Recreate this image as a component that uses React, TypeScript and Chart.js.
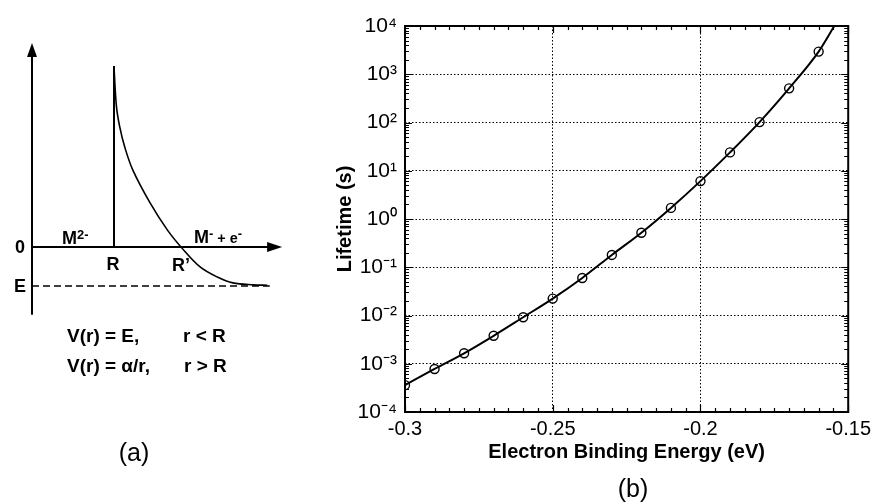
import React, { useEffect, useRef } from "react";
import { Chart, registerables } from "chart.js";

Chart.register(...registerables);

// ---------- Panel (b) data ----------
const energies = [-0.3, -0.29, -0.28, -0.27, -0.26, -0.25, -0.24, -0.23, -0.22, -0.21, -0.2, -0.19, -0.18, -0.17, -0.16];
const lifetimes = [3.6e-4, 7.8e-4, 1.65e-3, 3.8e-3, 9.2e-3, 0.0224, 0.06, 0.18, 0.52, 1.7, 6.1, 24, 102, 510, 2950];
const curveEndEnergy = -0.1547;
const curveEndLifetime = 1e4;
const xTickValues = [-0.3, -0.25, -0.2, -0.15];
const xTickLabels = ["-0.3", "-0.25", "-0.2", "-0.15"];
const yTickExponents = [-4, -3, -2, -1, 0, 1, 2, 3, 4];
const xTitle = "Electron Binding Energy (eV)";
const yTitle = "Lifetime (s)";

// ---------- Panel (a) schematic data (abstract units) ----------
const wallR = 1.0;
const wallTop = 4.64;
const levelE = -1.0;
const levelEnd = 2.9;
const curveR = [1.0, 1.03, 1.07, 1.13, 1.23, 1.44, 1.65, 1.83, 2.05, 2.26, 2.45, 2.7, 2.87];
const curveV = [4.6, 3.6, 3.08, 2.57, 1.97, 1.13, 0.44, -0.03, -0.51, -0.77, -0.92, -0.97, -0.98];
const axisYBottom = -1.74;
const axisYTop = 5.23;
const axisXRight = 3.05;

const FONT = '"Liberation Sans", Arial, Helvetica, sans-serif';

const supMap: Record<string, string> = {
  "-": "\u207B", "0": "\u2070", "1": "\u00B9", "2": "\u00B2", "3": "\u00B3",
  "4": "\u2074", "5": "\u2075", "6": "\u2076", "7": "\u2077", "8": "\u2078", "9": "\u2079",
};
const toSup = (s: string) => s.split("").map((c) => supMap[c] || c).join("");

const framePlugin = {
  id: "frameTicks",
  afterDatasetsDraw(chart: any) {
    const { ctx, chartArea: a, scales } = chart;
    const xs = scales.x;
    const ys = scales.y;
    ctx.save();
    ctx.strokeStyle = "#000";
    ctx.lineWidth = 1.2;
    ctx.beginPath();
    for (let i = 0; i <= 30; i++) {
      const v = -0.3 + i * 0.005;
      const px = Math.round(xs.getPixelForValue(v)) + 0.5;
      const len = i % 10 === 0 ? 7 : 4;
      ctx.moveTo(px, a.bottom);
      ctx.lineTo(px, a.bottom - len);
      ctx.moveTo(px, a.top);
      ctx.lineTo(px, a.top + len);
    }
    for (let d = -4; d <= 3; d++) {
      for (let m = 1; m <= 9; m++) {
        const v = m * Math.pow(10, d);
        const py = Math.round(ys.getPixelForValue(v)) + 0.5;
        const len = m === 1 ? 7 : 4;
        ctx.moveTo(a.left, py);
        ctx.lineTo(a.left + len, py);
        ctx.moveTo(a.right, py);
        ctx.lineTo(a.right - len, py);
      }
    }
    ctx.stroke();
    ctx.lineWidth = 2;
    ctx.strokeRect(a.left, a.top, a.right - a.left, a.bottom - a.top);
    ctx.restore();
  },
};

const arrowPlugin = {
  id: "arrows",
  afterDatasetsDraw(chart: any) {
    const { ctx, scales } = chart;
    const xs = scales.x;
    const ys = scales.y;
    ctx.save();
    ctx.fillStyle = "#000";
    const yx = xs.getPixelForValue(0);
    const yy = ys.getPixelForValue(axisYTop);
    ctx.beginPath();
    ctx.moveTo(yx, yy);
    ctx.lineTo(yx - 5, yy + 14);
    ctx.lineTo(yx + 5, yy + 14);
    ctx.closePath();
    ctx.fill();
    const xx = xs.getPixelForValue(axisXRight);
    const xy = ys.getPixelForValue(0);
    ctx.beginPath();
    ctx.moveTo(xx, xy);
    ctx.lineTo(xx - 15, xy - 5);
    ctx.lineTo(xx - 15, xy + 5);
    ctx.closePath();
    ctx.fill();
    ctx.restore();
  },
};

function LifetimeChart() {
  const ref = useRef<HTMLCanvasElement | null>(null);
  useEffect(() => {
    if (!ref.current) return;
    const curveData = energies.map((x, i) => ({ x, y: lifetimes[i] }));
    curveData.push({ x: curveEndEnergy, y: curveEndLifetime });
    const chart = new Chart(ref.current, {
      type: "scatter",
      data: {
        datasets: [
          {
            label: "fit",
            data: curveData,
            showLine: true,
            borderColor: "#000",
            borderWidth: 2,
            pointRadius: 0,
            cubicInterpolationMode: "monotone",
          } as any,
          {
            label: "computed",
            data: energies.map((x, i) => ({ x, y: lifetimes[i] })),
            showLine: false,
            borderColor: "#000",
            backgroundColor: "rgba(0,0,0,0)",
            borderWidth: 1.4,
            pointRadius: 4.5,
          },
        ],
      },
      options: {
        animation: false,
        responsive: false,
        events: [],
        layout: { padding: { left: 0, top: 26, right: 24, bottom: 0 } },
        plugins: { legend: { display: false }, tooltip: { enabled: false } },
        scales: {
          x: {
            type: "linear",
            min: -0.3,
            max: -0.15,
            afterBuildTicks: (s: any) => {
              s.ticks = xTickValues.map((v) => ({ value: v }));
            },
            afterFit: (s: any) => {
              s.height = 90;
            },
            ticks: {
              color: "#000",
              font: { family: FONT, size: 20 },
              padding: 5,
              maxRotation: 0,
              callback: (v: any) => {
                const i = xTickValues.findIndex((t) => Math.abs(t - v) < 1e-9);
                return i >= 0 ? xTickLabels[i] : "";
              },
            },
            grid: { color: "#000", lineWidth: 1, drawTicks: false },
            border: { display: false, dash: [1.5, 2] },
            title: {
              display: true,
              text: xTitle,
              color: "#000",
              font: { family: FONT, size: 20, weight: "bold" },
              padding: { top: 0, bottom: 38 },
            },
          },
          y: {
            type: "logarithmic",
            min: 1e-4,
            max: 1e4,
            afterBuildTicks: (s: any) => {
              s.ticks = yTickExponents.map((e) => ({ value: Math.pow(10, e) }));
            },
            afterFit: (s: any) => {
              s.width = 105;
            },
            ticks: {
              color: "#000",
              font: { family: FONT, size: 21 },
              padding: 8,
              callback: (v: any) => "10" + toSup(String(Math.round(Math.log10(v)))),
            },
            grid: { color: "#000", lineWidth: 1, drawTicks: false },
            border: { display: false, dash: [1.5, 2] },
            title: {
              display: true,
              text: yTitle,
              color: "#000",
              font: { family: FONT, size: 20, weight: "bold" },
              padding: { top: 33, bottom: 0 },
            },
          },
        },
      } as any,
      plugins: [framePlugin],
    });
    return () => chart.destroy();
  }, []);
  return (
    <canvas
      ref={ref}
      width={576}
      height={502}
      style={{ position: "absolute", left: 300, top: 0, width: 576, height: 502 }}
    />
  );
}

function SchematicChart() {
  const ref = useRef<HTMLCanvasElement | null>(null);
  useEffect(() => {
    if (!ref.current) return;
    const line = (data: { x: number; y: number }[], extra: any = {}) => ({
      data,
      showLine: true,
      borderColor: "#000",
      borderWidth: 2,
      pointRadius: 0,
      ...extra,
    });
    const chart = new Chart(ref.current, {
      type: "scatter",
      data: {
        datasets: [
          line([{ x: 0, y: axisYBottom }, { x: 0, y: axisYTop - 0.2 }], { label: "V axis" }),
          line([{ x: 0, y: 0 }, { x: axisXRight - 0.1, y: 0 }], { label: "r axis" }),
          line([{ x: wallR, y: 0 }, { x: wallR, y: wallTop }], { label: "wall" }),
          line(curveR.map((x, i) => ({ x, y: curveV[i] })), {
            label: "Coulomb barrier",
            tension: 0.35,
            borderWidth: 1.6,
          }),
          line([{ x: 0, y: levelE }, { x: levelEnd, y: levelE }], {
            label: "E level",
            borderWidth: 1.3,
            borderDash: [7, 4],
          }),
        ] as any,
      },
      options: {
        animation: false,
        responsive: false,
        events: [],
        layout: { padding: 0 },
        plugins: { legend: { display: false }, tooltip: { enabled: false } },
        scales: {
          x: { type: "linear", display: false, min: -32 / 82, max: (300 - 32) / 82 },
          y: { type: "linear", display: false, min: -(502 - 247) / 39, max: 247 / 39 },
        },
      } as any,
      plugins: [arrowPlugin],
    });
    return () => chart.destroy();
  }, []);
  return (
    <canvas
      ref={ref}
      width={300}
      height={502}
      style={{ position: "absolute", left: 0, top: 0, width: 300, height: 502 }}
    />
  );
}

const base: React.CSSProperties = {
  position: "absolute",
  fontFamily: FONT,
  color: "#000",
  lineHeight: 1,
  whiteSpace: "nowrap",
};
const centered = (x: number, y: number, size: number, bold = true): React.CSSProperties => ({
  ...base,
  left: x,
  top: y,
  fontSize: size,
  fontWeight: bold ? "bold" : "normal",
  transform: "translate(-50%, -50%)",
});
const leftAt = (x: number, y: number, size: number, bold = true): React.CSSProperties => ({
  ...base,
  left: x,
  top: y,
  fontSize: size,
  fontWeight: bold ? "bold" : "normal",
  transform: "translateY(-50%)",
});
const supStyle: React.CSSProperties = { fontSize: "0.72em", verticalAlign: "0.4em" };

export default function App() {
  return (
    <div style={{ position: "absolute", left: 0, top: 0, width: 876, height: 502, background: "#fff", overflow: "hidden" }}>
      <SchematicChart />
      <LifetimeChart />
      <div style={centered(20, 247, 18)}>0</div>
      <div style={centered(20, 286, 18)}>E</div>
      <div style={leftAt(62, 238, 18)}>
        M<span style={supStyle}>2-</span>
      </div>
      <div style={centered(113, 264, 18)}>R</div>
      <div style={leftAt(172, 265, 18)}>R’</div>
      <div style={leftAt(194, 237, 18)}>
        M<span style={supStyle}>-</span>
        <span style={{ fontSize: "0.8em" }}> + e</span>
        <span style={supStyle}>-</span>
      </div>
      <div style={leftAt(67, 335, 19)}>V(r) = E,</div>
      <div style={leftAt(183, 335, 19)}>r &lt; R</div>
      <div style={leftAt(67, 365, 19)}>V(r) = α/r,</div>
      <div style={leftAt(184, 365, 19)}>r &gt; R</div>
      <div style={centered(134, 452, 25, false)}>(a)</div>
      <div style={centered(633, 488, 25, false)}>(b)</div>
    </div>
  );
}
